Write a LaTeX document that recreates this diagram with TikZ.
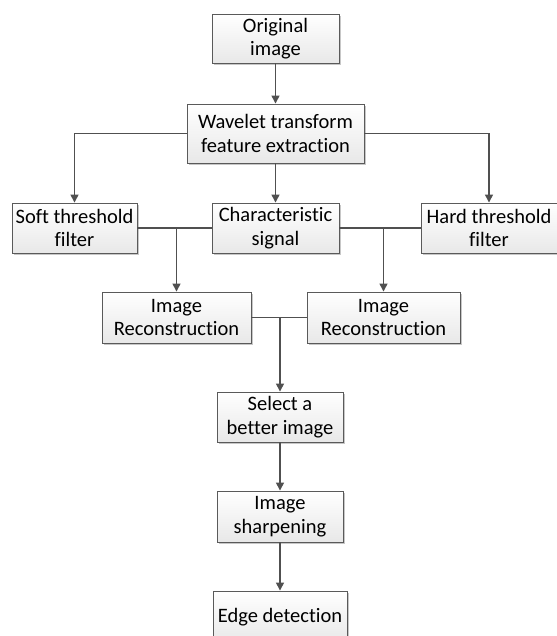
\documentclass[tikz,border=0pt]{standalone}
\usepackage{fontspec}
\setmainfont{Carlito}[Ligatures=NoCommon]
\usetikzlibrary{arrows.meta,shadows,calc}
\definecolor{linegray}{HTML}{505050}
\definecolor{boxgray}{HTML}{5A5A5A}
\tikzset{
  box/.style={draw=boxgray, line width=0.9pt, rectangle, inner sep=0pt, align=center,
    top color=white, bottom color=black!9, text=black,
    font=\fontsize{20.5}{23.5}\selectfont,
    drop shadow={shadow xshift=1.6pt, shadow yshift=-1.6pt, fill=black!22, opacity=1}},
  conn/.style={draw=linegray, line width=1.4pt},
  arr/.style={conn, -{Triangle[length=8pt,width=8pt]}}
}
\begin{document}
\begin{tikzpicture}[x=1pt,y=-1pt]
\useasboundingbox (0,0) rectangle (556,636);
\node[box, minimum width=127pt, minimum height=49pt] (orig) at (275.5,38.5) {Original\\image};
\node[box, minimum width=177pt, minimum height=59pt] (wave) at (275.5,133.5) {Wavelet transform\\feature extraction};
\node[box, minimum width=125pt, minimum height=50pt] (soft) at (74.5,228) {Soft threshold\\filter};
\node[box, minimum width=127pt, minimum height=50pt] (char) at (275.5,228) {Characteristic\\signal};
\node[box, minimum width=136pt, minimum height=50pt] (hard) at (489,228) {Hard threshold\\filter};
\node[box, minimum width=149pt, minimum height=51pt] (ir1) at (176.5,317.5) {Image\\Reconstruction};
\node[box, minimum width=153pt, minimum height=51pt] (ir2) at (383.5,317.5) {Image\\Reconstruction};
\node[box, minimum width=126pt, minimum height=50pt] (sel) at (280,417) {Select a\\better image};
\node[box, minimum width=126pt, minimum height=51pt] (sharp) at (280,516.5) {Image\\sharpening};
\node[box, minimum width=134pt, minimum height=52pt] (edge) at (280,617) {Edge detection};

\coordinate (j1) at (ir1.north |- soft.east);
\coordinate (j2) at (ir2.north |- char.east);
\coordinate (j3) at (sel.north |- ir1.east);

\draw[arr] (orig) -- (wave);
\draw[arr] (wave.west) -| (soft.north);
\draw[arr] (wave) -- (char);
\draw[arr] (wave.east) -| (hard.north);
\draw[conn] (soft.east) -- (char.west);
\draw[conn] (char.east) -- (hard.west);
\draw[arr] (j1) -- (ir1.north);
\draw[arr] (j2) -- (ir2.north);
\draw[conn] (ir1.east) -- (ir2.west);
\draw[arr] (j3) -- (sel.north);
\draw[arr] (sel) -- (sharp);
\draw[arr] (sharp) -- (edge);
\end{tikzpicture}
\end{document}
